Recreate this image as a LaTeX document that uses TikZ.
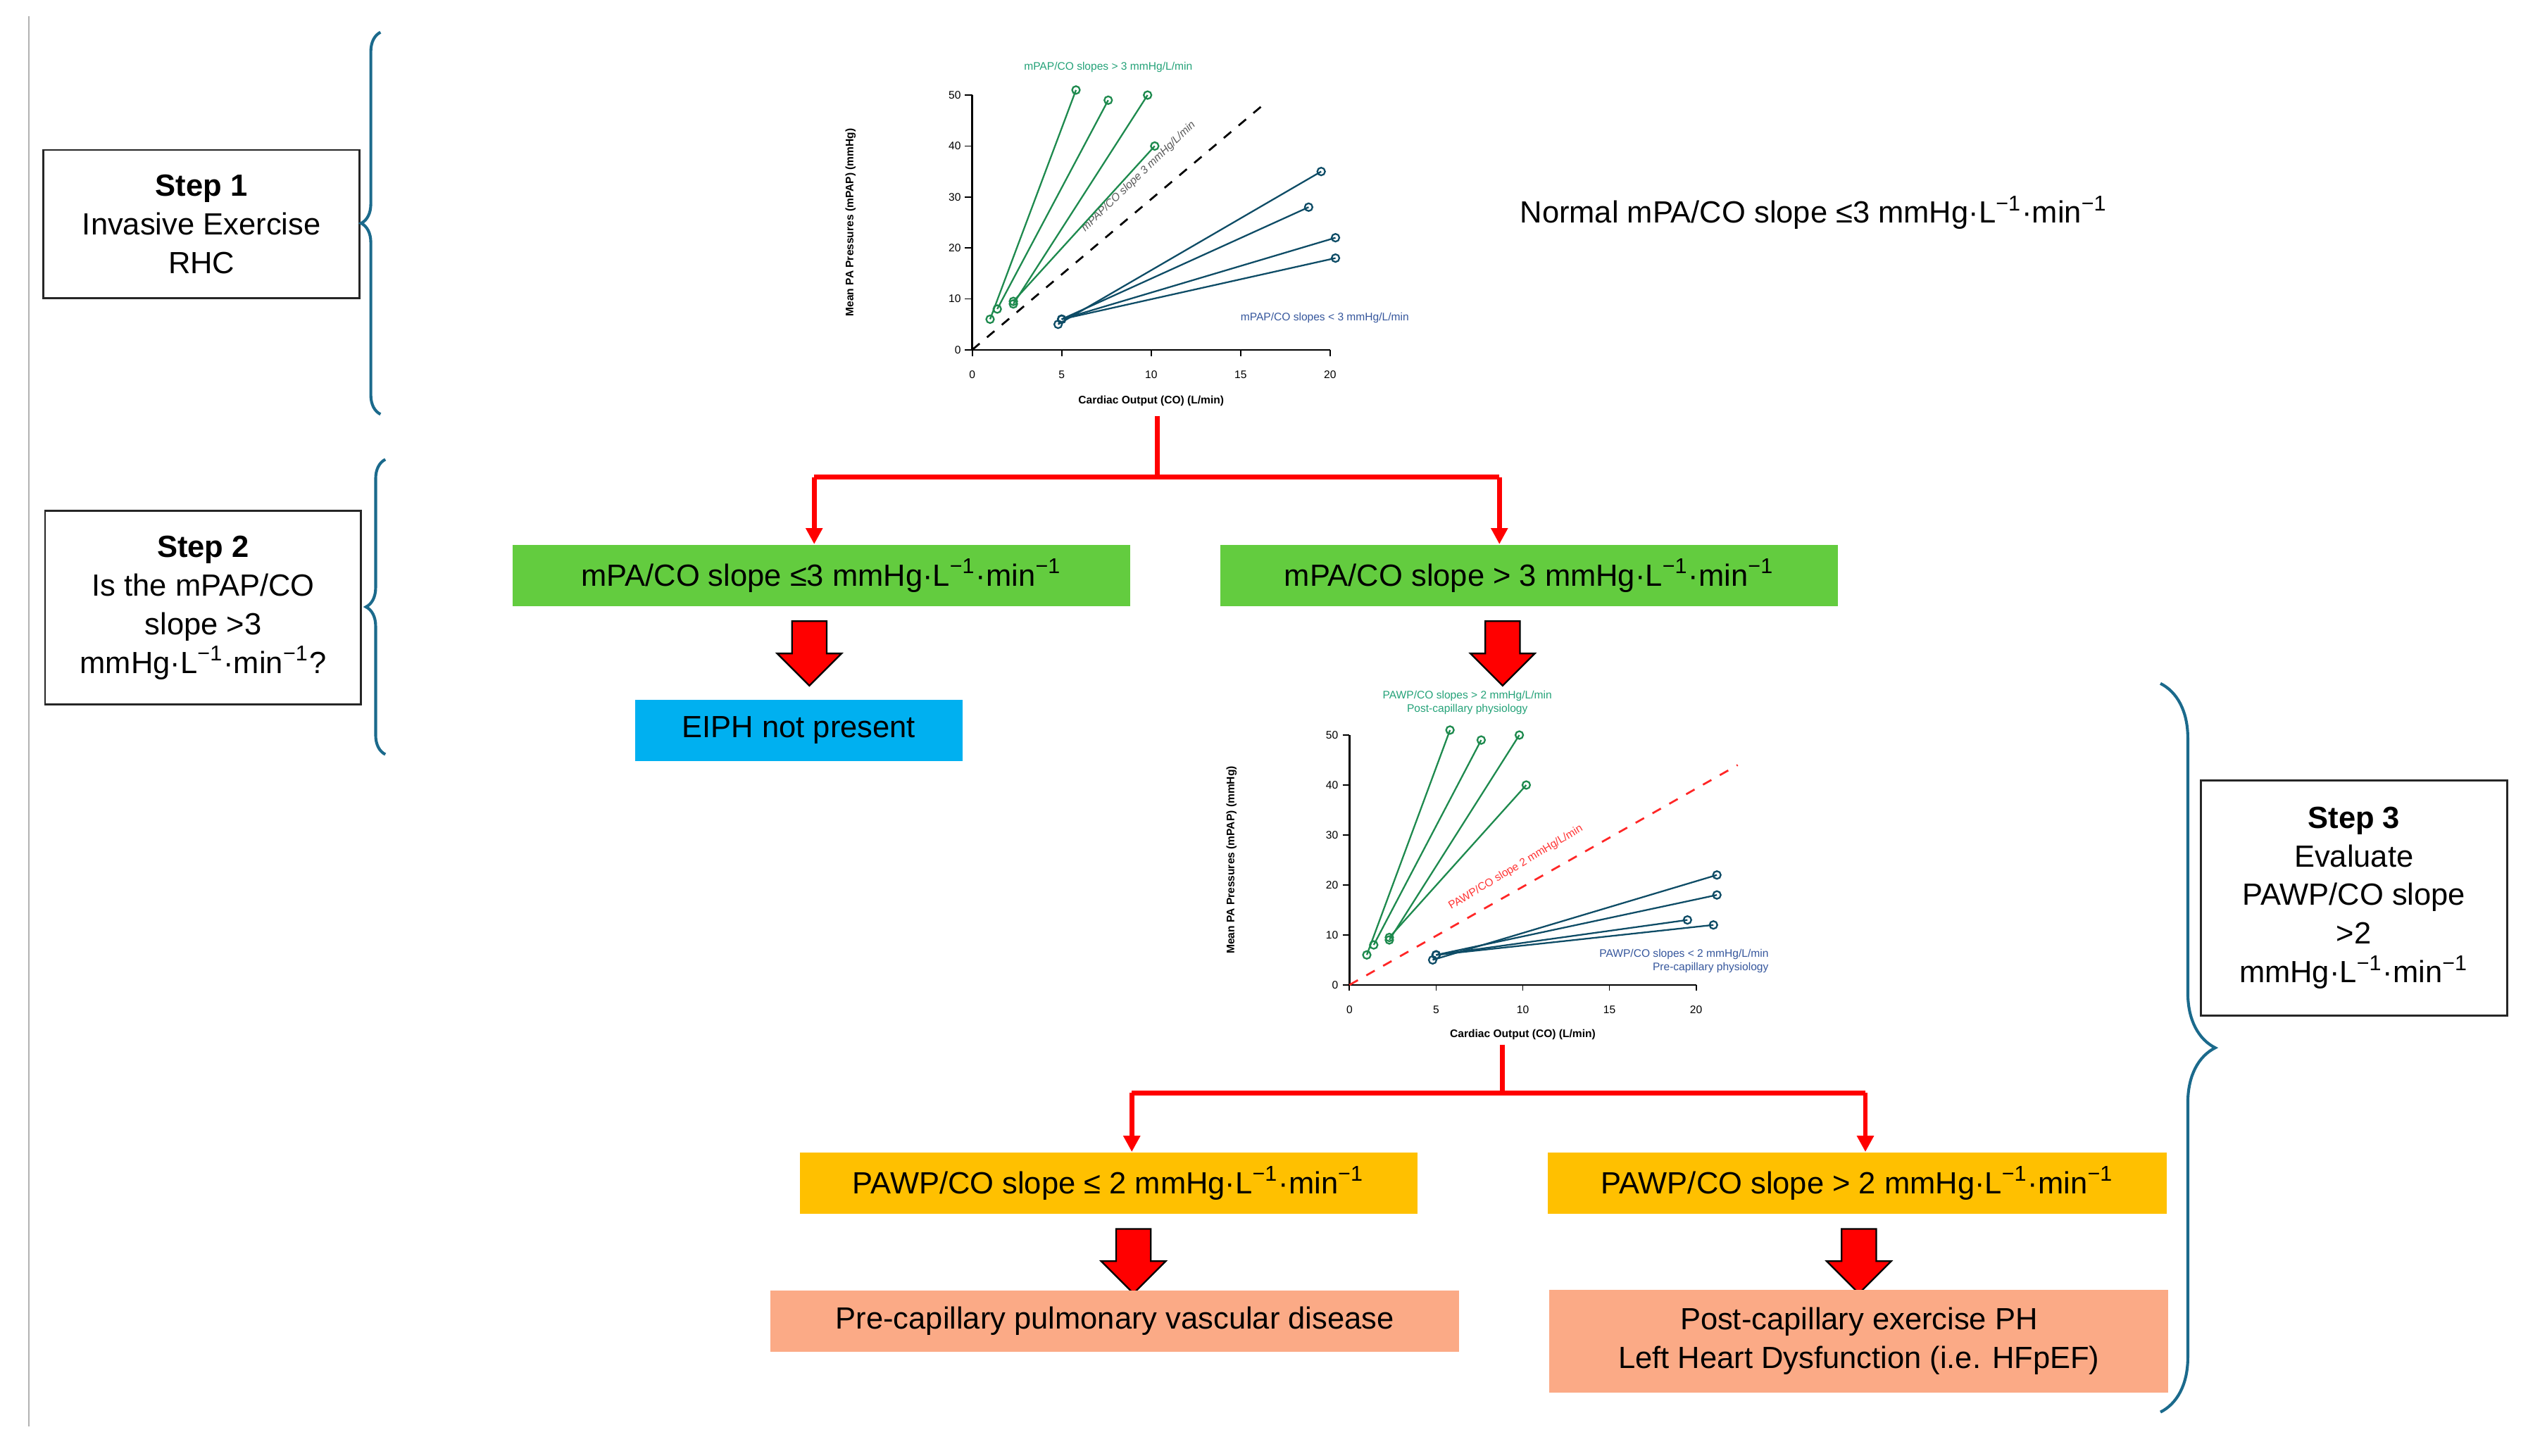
\documentclass[tikz,border=0pt]{standalone}
\usepackage{fontspec}
\setmainfont{Liberation Sans}
\usetikzlibrary{arrows.meta, positioning, shapes.arrows, decorations.pathreplacing}

\definecolor{bracecol}{HTML}{1B6A8C}
\definecolor{boxgreen}{HTML}{63CC3F}
\definecolor{boxcyan}{HTML}{00B0F0}
\definecolor{boxgold}{HTML}{FFC000}
\definecolor{boxsalmon}{HTML}{FBAA86}
\definecolor{hiline}{HTML}{2DCB96}
\definecolor{hidot}{HTML}{1E8A4E}
\definecolor{loline}{HTML}{3C8FA8}
\definecolor{lodot}{HTML}{0E4C66}
\definecolor{lotext}{HTML}{35569C}
\newcommand{\unitsx}{mmHg·L\textsuperscript{−1}·min\textsuperscript{−1}}
\newcommand{\charttext}{\fontsize{3.4}{4}\selectfont}

\begin{document}
\begin{tikzpicture}[
  x=0.5pt, y=-0.5pt,
  stepbox/.style={draw=black!85, line width=0.6pt, align=center, font=\fontsize{9.5}{12}\selectfont, inner sep=2pt},
  result/.style={minimum height=19pt, align=center, font=\fontsize{9.5}{12}\selectfont},
  flow/.style={draw=red, line width=1.5pt},
  arr/.style={flow, -{Triangle[length=5pt, width=5pt]}},
  bigarrow/.style={single arrow, draw=black, fill=red, line width=0.5pt, shape border rotate=270,
    minimum width=20pt, minimum height=20pt, inner sep=5pt, single arrow head extend=4.5pt},
  curly/.style={draw=bracecol, line width=0.9pt, decorate}
]
\useasboundingbox (0,0) rectangle (1568,903);
\draw[gray!60, line width=0.5pt] (18,10) -- (18,885);

% step labels and braces
\node[stepbox, minimum width=98pt, minimum height=46pt] (step1) at (125,139) {\textbf{Step 1}\\Invasive Exercise\\RHC};
\node[stepbox, minimum width=98pt, minimum height=60pt] (step2) at (126,377) {\textbf{Step 2}\\Is the mPAP/CO\\slope >3\\\unitsx?};
\node[stepbox, minimum width=95pt, minimum height=73pt] (step3) at (1460,557) {\textbf{Step 3}\\Evaluate\\PAWP/CO slope\\>2\\\unitsx};
\draw[curly, decoration={brace, amplitude=6pt}] (236,257) -- (236,20);
\draw[curly, decoration={brace, amplitude=6pt}] (239,468) -- (239,285);
\draw[curly, decoration={brace, amplitude=17pt, aspect=0.5}] (1340,424) -- (1340,876);

% chart 1
\begin{scope}[shift={(603,217)}, x=5.55pt, y=1.58pt]
  \draw[line width=0.5pt] (0,50) -- (0,0) -- (20,0);
  \foreach \t in {0,10,...,50} \draw[line width=0.4pt] (-0.4,\t) -- (0,\t) node[left=0pt, font=\charttext] {\t};
  \foreach \t in {0,5,...,20} \draw[line width=0.4pt] (\t,-1.2) -- (\t,0) node[below=3pt, font=\charttext] {\t};
  \draw[dashed, line width=0.6pt] (0,0) -- (16.4,48.5);
  \node[rotate=44, gray!70!black, font=\charttext\itshape] at (9.3,34) {mPAP/CO slope 3 mmHg/L/min};
  \foreach \a/\b/\c/\d in {1/6/5.8/51, 1.4/8/7.6/49, 2.3/9/9.8/50, 2.3/9.5/10.2/40}
    \draw[hiline, line width=0.5pt] (\a,\b) -- (\c,\d) [hidot] (\a,\b) circle[radius=1.2pt] (\c,\d) circle[radius=1.2pt];
  \foreach \a/\b/\c/\d in {4.8/5/19.5/35, 5/6/18.8/28, 5/6/20.3/22, 5/6/20.3/18}
    \draw[loline, line width=0.5pt] (\a,\b) -- (\c,\d) [lodot] (\a,\b) circle[radius=1.2pt] (\c,\d) circle[radius=1.2pt];
  \node[hiline!80!black, font=\charttext] at (7.6,55.5) {mPAP/CO slopes > 3 mmHg/L/min};
  \node[lotext, font=\charttext] at (19.7,6.3) {mPAP/CO slopes < 3 mmHg/L/min};
  \node[font=\charttext\bfseries] at (10,-10) {Cardiac Output (CO) (L/min)};
  \node[rotate=90, font=\charttext\bfseries] at (-6.8,25) {Mean PA Pressures (mPAP) (mmHg)};
\end{scope}
\coordinate (chart1) at (718,258);
\node[font=\fontsize{9.5}{12}\selectfont] (normal) at (1125,132) {Normal mPA/CO slope ≤3 \unitsx};

% first split
\node[result, fill=boxgreen, minimum width=191.5pt] (low) at (509.5,357) {mPA/CO slope ≤3 \unitsx};
\node[result, fill=boxgreen, minimum width=191.5pt] (high) at (948.5,357) {mPA/CO slope > 3 \unitsx};
\coordinate (split1L) at (505,296);
\coordinate (split1R) at (930,296);
\draw[flow] (chart1) -- (chart1|-split1L);
\draw[flow] (split1L) -- (split1R);
\draw[arr] (split1L) -- (split1L|-low.north);
\draw[arr] (split1R) -- (split1R|-high.north);
\node[bigarrow] (downL) at (502,400) {};
\node[bigarrow] (downR) at (932,400) {};
\node[result, fill=boxcyan, minimum width=101.5pt] (eiph) at (495.5,453) {EIPH not present};

% chart 2
\begin{scope}[shift={(837,611)}, x=5.375pt, y=1.55pt]
  \draw[line width=0.5pt] (0,50) -- (0,0) -- (20,0);
  \foreach \t in {0,10,...,50} \draw[line width=0.4pt] (-0.4,\t) -- (0,\t) node[left=0pt, font=\charttext] {\t};
  \foreach \t in {0,5,...,20} \draw[line width=0.4pt] (\t,-1.2) -- (\t,0) node[below=3pt, font=\charttext] {\t};
  \draw[red!85, dashed, line width=0.6pt] (0,0) -- (22.4,44);
  \node[rotate=31, red!80, font=\charttext] at (9.6,23.5) {PAWP/CO slope 2 mmHg/L/min};
  \foreach \a/\b/\c/\d in {1/6/5.8/51, 1.4/8/7.6/49, 2.3/9/9.8/50, 2.3/9.5/10.2/40}
    \draw[hiline, line width=0.5pt] (\a,\b) -- (\c,\d) [hidot] (\a,\b) circle[radius=1.2pt] (\c,\d) circle[radius=1.2pt];
  \foreach \a/\b/\c/\d in {4.8/5/21.2/22, 5/6/21.2/18, 5/6/19.5/13, 5/6/21/12}
    \draw[loline, line width=0.5pt] (\a,\b) -- (\c,\d) [lodot] (\a,\b) circle[radius=1.2pt] (\c,\d) circle[radius=1.2pt];
  \node[hiline!80!black, font=\charttext, align=center] at (6.8,56.5) {PAWP/CO slopes > 2 mmHg/L/min\\Post-capillary physiology};
  \node[lotext, font=\charttext, align=right] at (19.3,4.8) {PAWP/CO slopes < 2 mmHg/L/min\\Pre-capillary physiology};
  \node[font=\charttext\bfseries] at (10,-10) {Cardiac Output (CO) (L/min)};
  \node[rotate=90, font=\charttext\bfseries] at (-6.8,25) {Mean PA Pressures (mPAP) (mmHg)};
\end{scope}
\coordinate (chart2) at (932,648);

% second split
\node[result, fill=boxgold, minimum width=191.5pt] (pawplow) at (687.5,734) {PAWP/CO slope ≤ 2 \unitsx};
\node[result, fill=boxgold, minimum width=192pt] (pawphigh) at (1152,734) {PAWP/CO slope > 2 \unitsx};
\coordinate (split2L) at (702,678);
\coordinate (split2R) at (1157,678);
\draw[flow] (chart2) -- (chart2|-split2L);
\draw[flow] (split2L) -- (split2R);
\draw[arr] (split2L) -- (split2L|-pawplow.north);
\draw[arr] (split2R) -- (split2R|-pawphigh.north);
\node[bigarrow] (down2L) at (703,777) {};
\node[bigarrow] (down2R) at (1153,777) {};
\node[result, fill=boxsalmon, minimum width=213.5pt] (precap) at (691.5,819.5) {Pre-capillary pulmonary vascular disease};
\node[result, fill=boxsalmon, minimum width=192pt, minimum height=32pt] (postcap) at (1153,832) {Post-capillary exercise PH\\Left Heart Dysfunction (i.e. HFpEF)};
\end{tikzpicture}
\end{document}
